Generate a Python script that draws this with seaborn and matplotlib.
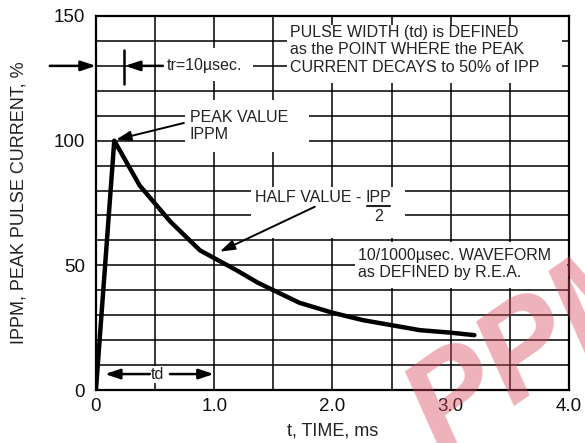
import matplotlib
matplotlib.use("Agg")
import matplotlib.pyplot as plt
from matplotlib.patches import Rectangle
import seaborn as sns

# waveform
t_ms = [0, 0.155, 0.37, 0.63, 0.88, 1.19, 1.37, 1.72, 2.0, 2.26, 2.74, 3.0, 3.2]
ippm = [0, 100, 82, 67.5, 56, 48, 43, 35, 31, 28, 24, 23, 22]

x_ticks = [0, 0.5, 1.0, 1.5, 2.0, 2.5, 3.0, 3.5, 4.0]
x_labels = ["0", "", "1.0", "", "2.0", "", "3.0", "", "4.0"]
y_ticks = list(range(0, 151, 10))
y_labels = [str(v) if v % 50 == 0 else "" for v in y_ticks]

sns.set_style("white")
plt.rcParams["font.family"] = ["Liberation Sans", "DejaVu Sans"]

fig = plt.figure(figsize=(5.85, 4.43), dpi=100)
ax = fig.add_axes([0.164, 0.1196, 0.8086, 0.8443])

sns.lineplot(x=t_ms, y=ippm, color="black", linewidth=3.2, ax=ax, zorder=2)

ax.set_xlim(0, 4)
ax.set_ylim(0, 150)
ax.set_xticks(x_ticks)
ax.set_xticklabels(x_labels)
ax.set_yticks(y_ticks)
ax.set_yticklabels(y_labels)
ax.tick_params(length=0, labelsize=13.5, colors="#111111", pad=6)
ax.tick_params(axis="y", pad=8)
ax.grid(True, color="black", linewidth=1.1)
ax.set_axisbelow(True)
for s in ax.spines.values():
    s.set_color("black")
    s.set_linewidth(1.6)

ax.set_xlabel("t, TIME, ms", fontsize=13, color="#222222")
ax.set_ylabel("IPPM, PEAK PULSE CURRENT, %", fontsize=13, color="#222222")
ax.xaxis.set_label_coords(0.5, -0.088)
ax.yaxis.set_label_coords(-0.145, 0.5)

# white boxes that hide the grid behind the notes
for (x0, x1, y0, y1) in [(1.615, 3.94, 123.1, 146.4),
                         (0.57, 1.33, 124.0, 137.0),
                         (0.753, 1.80, 95.5, 116.3),
                         (1.31, 2.61, 61.0, 81.4),
                         (2.19, 3.98, 40.9, 59.4),
                         (0.43, 0.62, 2.8, 9.6)]:
    ax.add_patch(Rectangle((x0, y0), x1 - x0, y1 - y0, facecolor="white",
                           edgecolor="none", zorder=1.5))

fs = 11.5
tc = "#222222"
ax.text(1.64, 136.4, "PULSE WIDTH (td) is DEFINED\nas the POINT WHERE the PEAK\nCURRENT DECAYS to 50% of IPP",
        fontsize=fs, color=tc, va="center", ha="left", linespacing=1.2, zorder=3)
ax.text(0.60, 130, "tr=10µsec.", fontsize=fs, color=tc, va="center", ha="left", zorder=3)
ax.text(0.795, 105.9, "PEAK VALUE\nIPPM", fontsize=fs, color=tc, va="center", ha="left",
        linespacing=1.2, zorder=3)
ax.text(2.245, 75.5, "HALF VALUE -", fontsize=fs, color=tc, va="baseline", ha="right", zorder=3)
ax.text(2.39, 75.5, "IPP", fontsize=fs, color=tc, va="baseline", ha="center", zorder=3)
ax.plot([2.29, 2.49], [73.8, 73.8], color=tc, lw=1.5, zorder=3)
ax.text(2.39, 69.5, "2", fontsize=fs, color=tc, va="center", ha="center", zorder=3)
ax.text(2.215, 50.5, "10/1000µsec. WAVEFORM\nas DEFINED by R.E.A.", fontsize=fs, color=tc,
        va="center", ha="left", linespacing=1.2, zorder=3)
ax.text(0.524, 6.4, "td", fontsize=fs, color=tc, va="center", ha="center", zorder=3)

big = dict(arrowstyle="-|>,head_length=0.9,head_width=0.3", color="black", lw=1.8,
           shrinkA=0, shrinkB=0)
thin = dict(arrowstyle="-|>,head_length=0.9,head_width=0.3", color="black", lw=1.4,
            shrinkA=0, shrinkB=0)
ax.annotate("", xy=(0, 130), xytext=(-0.39, 130), arrowprops=big, annotation_clip=False, zorder=4)
ax.annotate("", xy=(0.245, 130), xytext=(0.566, 130), arrowprops=big, zorder=4)
ax.plot([0.237, 0.237], [122.7, 136.4], color="black", lw=1.8, zorder=4)
ax.annotate("", xy=(0.17, 100.4), xytext=(0.744, 107.1), arrowprops=thin, zorder=4)
ax.annotate("", xy=(1.048, 55.5), xytext=(1.851, 73.5), arrowprops=thin, zorder=4)
ax.annotate("", xy=(0.076, 6.4), xytext=(0.456, 6.4), arrowprops=big, zorder=4)
ax.annotate("", xy=(0.997, 6.4), xytext=(0.626, 6.4), arrowprops=big, zorder=4)

# faint red watermark in the corner
fig.text(0.66, -0.08, "PPM", fontsize=95, fontweight="bold", fontstyle="italic",
         color="#d8485a", alpha=0.42, rotation=35, ha="left", va="bottom", zorder=10)

fig.savefig("out.png", dpi=100)
